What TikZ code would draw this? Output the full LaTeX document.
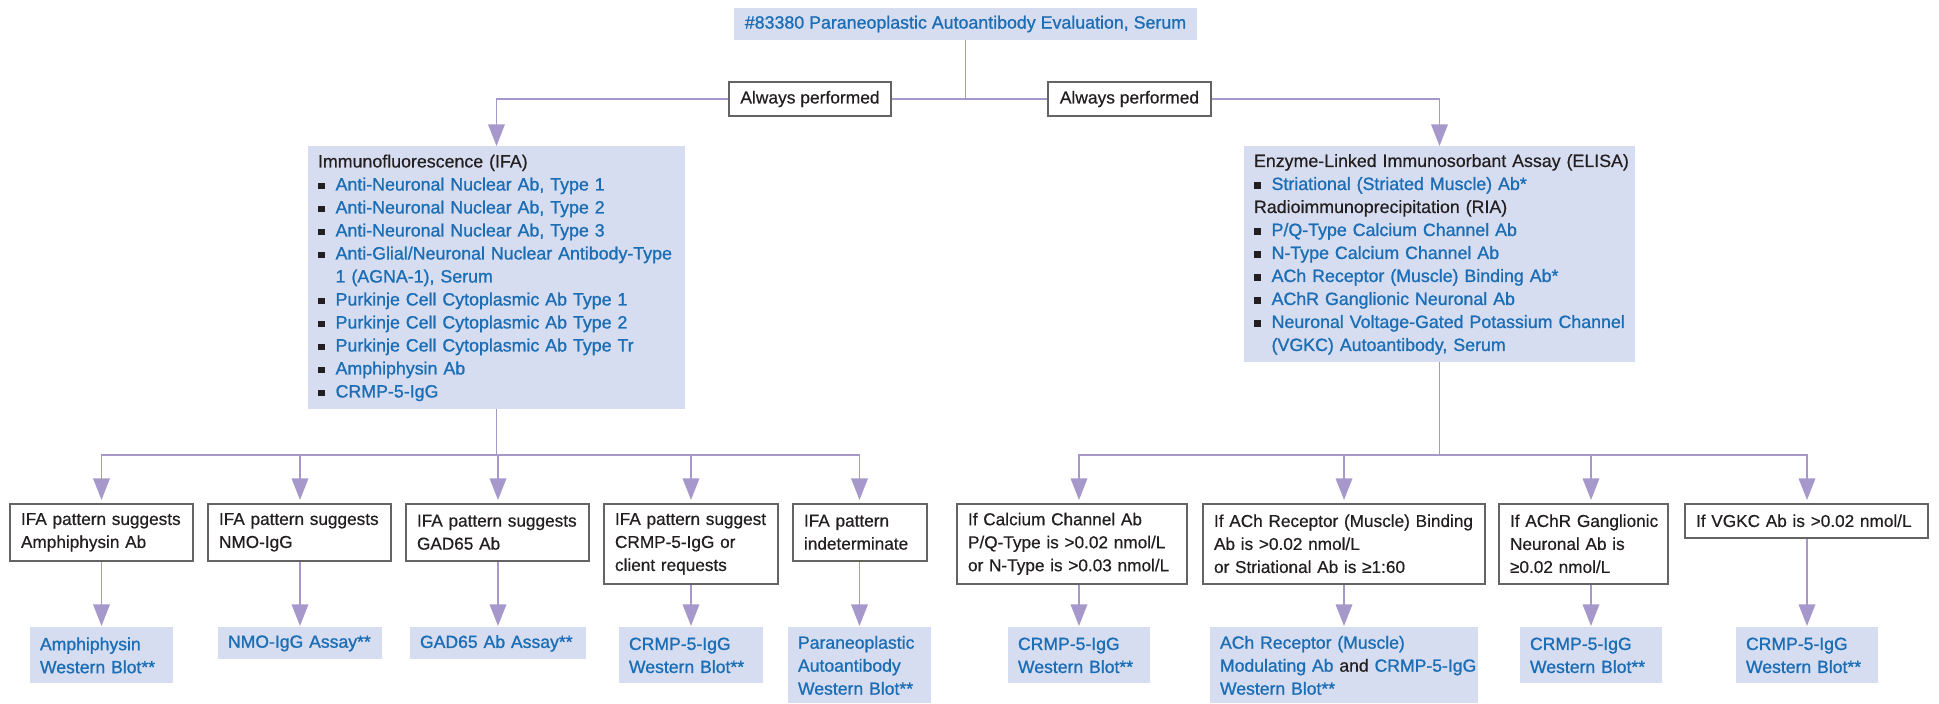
\documentclass[tikz,border=0pt]{standalone}
\usepackage{fontspec}
\setmainfont{Liberation Sans}[FakeBold=0.5]
\newfontfamily\medfont{Liberation Sans}[FakeBold=1.1]
\usepackage{xcolor}
\usepackage{tikz}
\usetikzlibrary{
  arrows.meta,
  positioning,
  backgrounds,
  calc
}
\definecolor{LabBlue}{RGB}{27,110,181}
\definecolor{LabFill}{RGB}{214,221,240}
\definecolor{LinkPurple}{RGB}{167,152,204}
\definecolor{EdgeGray}{RGB}{100,100,100}
\definecolor{InkBlack}{RGB}{35,31,32}
\newcommand{\tst}[1]{{\medfont\color{LabBlue}#1}}
\newcommand{\itm}[1]{\mbox{\makebox[8.8pt][l]{\rule[0.5pt]{3.4pt}{3.4pt}}\tst{#1}}}
\tikzset{
  %%── title / tag boxes ─────────────────────────────────────
  hdr/.style = {
    rectangle, fill = LabFill, text = LabBlue,
    minimum width = 231.5pt, minimum height = 16pt, inner sep = 0pt,
    font = \fontsize{8.9}{11.5}\selectfont\medfont
  },
  tag/.style = {
    rectangle, draw = EdgeGray, line width = 0.8pt, fill = white,
    minimum height = 17pt, inner sep = 0pt, text = InkBlack,
    font = \fontsize{8.7}{11.5}\selectfont
  },
  %%── test panels ───────────────────────────────────────────
  grp/.style = {
    rectangle, fill = LabFill, text = InkBlack, anchor = north,
    align = left, inner xsep = 5pt, inner ysep = 0pt,
    font = \fontsize{8.9}{11.5}\selectfont
  },
  %%── condition boxes / result boxes ────────────────────────
  cond/.style = {
    rectangle, draw = EdgeGray, line width = 0.8pt, fill = white,
    text = InkBlack, anchor = north, align = left,
    inner xsep = 5.5pt, inner ysep = 0pt,
    font = \fontsize{8.6}{11.5}\selectfont
  },
  res/.style = {
    rectangle, fill = LabFill, text = LabBlue, anchor = north,
    align = left, inner xsep = 5pt, inner ysep = 0pt,
    font = \fontsize{8.8}{11.5}\selectfont\medfont
  },
  %%── connectors ────────────────────────────────────────────
  bus/.style = {line width = 0.75pt, line cap = rect, color = LinkPurple},
  arr/.style = {-{Triangle[length = 10.8pt, width = 8.3pt]},
                line width = 0.75pt, color = LinkPurple},
}

\begin{document}
\begin{tikzpicture}[x = 0.5pt, y = -0.5pt]
  \useasboundingbox (0,0) rectangle (1939,704);

  %% ── top row ──────────────────────────────────────────────
  \node[hdr] (top) at (965.5,24) {\#83380 Paraneoplastic Autoantibody Evaluation, Serum};
  \node[tag, minimum width = 81pt]   (awL) at (810,99)    {Always performed};
  \node[tag, minimum width = 81.5pt] (awR) at (1129.5,99) {Always performed};

  %% ── panel 1: IFA ─────────────────────────────────────────
  \node[grp, text width = 178.5pt, minimum height = 131.5pt] (ifa) at (496.5,146) {%
    Immunofluorescence (IFA)\\
    \itm{Anti-Neuronal Nuclear Ab, Type 1}\\
    \itm{Anti-Neuronal Nuclear Ab, Type 2}\\
    \itm{Anti-Neuronal Nuclear Ab, Type 3}\\
    \itm{Anti-Glial/Neuronal Nuclear Antibody-Type}\\
    \hspace*{8.8pt}\tst{1 (AGNA-1), Serum}\\
    \itm{Purkinje Cell Cytoplasmic Ab Type 1}\\
    \itm{Purkinje Cell Cytoplasmic Ab Type 2}\\
    \itm{Purkinje Cell Cytoplasmic Ab Type Tr}\\
    \itm{Amphiphysin Ab}\\
    \itm{CRMP-5-IgG}};

  %% ── panel 2: ELISA / RIA ─────────────────────────────────
  \node[grp, text width = 185.5pt, minimum height = 108pt] (elisa) at (1439.5,146) {%
    \mbox{Enzyme-Linked Immunosorbant Assay (ELISA)}\\
    \itm{Striational (Striated Muscle) Ab*}\\
    Radioimmunoprecipitation (RIA)\\
    \itm{P/Q-Type Calcium Channel Ab}\\
    \itm{N-Type Calcium Channel Ab}\\
    \itm{ACh Receptor (Muscle) Binding Ab*}\\
    \itm{AChR Ganglionic Neuronal Ab}\\
    \itm{Neuronal Voltage-Gated Potassium Channel}\\
    \hspace*{8.8pt}\tst{(VGKC) Autoantibody, Serum}};

  %% ── condition row (9 boxes) ──────────────────────────────
  \node[cond, text width = 80.5pt, minimum height = 28.5pt] (c1) at (101.5,503)
    {IFA pattern suggests\\Amphiphysin Ab};
  \node[cond, text width = 80.5pt, minimum height = 28.5pt] (c2) at (299.5,503)
    {IFA pattern suggests\\NMO-IgG};
  \node[cond, text width = 80.5pt, minimum height = 28.5pt] (c3) at (497.5,503)
    {IFA pattern suggests\\GAD65 Ab};
  \node[cond, text width = 76pt, minimum height = 40pt] (c4) at (691,503)
    {IFA pattern suggest\\CRMP-5-IgG or\\client requests};
  \node[cond, text width = 56pt, minimum height = 28.5pt] (c5) at (860,503)
    {IFA pattern\\indeterminate};
  \node[cond, text width = 104pt, minimum height = 40pt] (c6) at (1072,503)
    {If Calcium Channel Ab\\\mbox{P/Q-Type is >0.02 nmol/L}\\\mbox{or N-Type is >0.03 nmol/L}};
  \node[cond, text width = 130pt, minimum height = 40pt] (c7) at (1344,503)
    {\mbox{If ACh Receptor (Muscle) Binding}\\Ab is >0.02 nmol/L\\or Striational Ab is ≥1:60};
  \node[cond, text width = 73.5pt, minimum height = 40pt] (c8) at (1583.5,503)
    {\mbox{If AChR Ganglionic}\\Neuronal Ab is\\≥0.02 nmol/L};
  \node[cond, text width = 110.5pt, minimum height = 17pt] (c9) at (1806.5,503)
    {\mbox{If VGKC Ab is >0.02 nmol/L}};

  %% ── result row (9 boxes) ─────────────────────────────────
  \node[res, text width = 61.5pt, minimum height = 28pt] (r1) at (101.5,627)
    {Amphiphysin\\\mbox{Western Blot**}};
  \node[res, text width = 72pt, minimum height = 16pt] (r2) at (300,627)
    {\mbox{NMO-IgG Assay**}};
  \node[res, text width = 78pt, minimum height = 16pt] (r3) at (498,627)
    {\mbox{GAD65 Ab Assay**}};
  \node[res, text width = 62pt, minimum height = 28pt] (r4) at (691,627)
    {CRMP-5-IgG\\\mbox{Western Blot**}};
  \node[res, text width = 61.5pt, minimum height = 38pt] (r5) at (859.5,627)
    {Paraneoplastic\\Autoantibody\\\mbox{Western Blot**}};
  \node[res, text width = 61pt, minimum height = 28pt] (r6) at (1079,627)
    {CRMP-5-IgG\\\mbox{Western Blot**}};
  \node[res, text width = 124pt, minimum height = 38pt] (r7) at (1344,627)
    {ACh Receptor (Muscle)\\\mbox{Modulating Ab {\rmfamily\color{InkBlack}and} CRMP-5-IgG}\\\mbox{Western Blot**}};
  \node[res, text width = 61pt, minimum height = 28pt] (r8) at (1591,627)
    {CRMP-5-IgG\\\mbox{Western Blot**}};
  \node[res, text width = 61pt, minimum height = 28pt] (r9) at (1807,627)
    {CRMP-5-IgG\\\mbox{Western Blot**}};

  %% ── connectors (behind the boxes) ────────────────────────
  \begin{scope}[on background layer]
    \coordinate (jT) at (top.south |- awL.center);
    \draw[bus] (top.south) -- (jT);
    \draw[arr] (jT) -| (ifa.north);
    \draw[arr] (jT) -| (elisa.north);

    \coordinate (jL) at ($(ifa.south)+(0,45)$);
    \coordinate (jR) at ($(elisa.south)+(0,92)$);
    \draw[bus] (ifa.south) -- (jL);
    \draw[bus] (elisa.south) -- (jR);
    \draw[bus] (jL -| r1.north) -- (jL -| r5.north);
    \draw[bus] (jR -| r6.north) -- (jR -| r9.north);

    \foreach \c/\r/\j in {c1/r1/jL, c2/r2/jL, c3/r3/jL, c4/r4/jL, c5/r5/jL,
                          c6/r6/jR, c7/r7/jR, c8/r8/jR, c9/r9/jR} {
      \draw[arr, shorten >= 1.5pt] (\j -| \r.north) -- (\c.north -| \r.north);
      \draw[arr, shorten >= 0.5pt] (\c.south -| \r.north) -- (\r.north);
    }
  \end{scope}

\end{tikzpicture}
\end{document}
